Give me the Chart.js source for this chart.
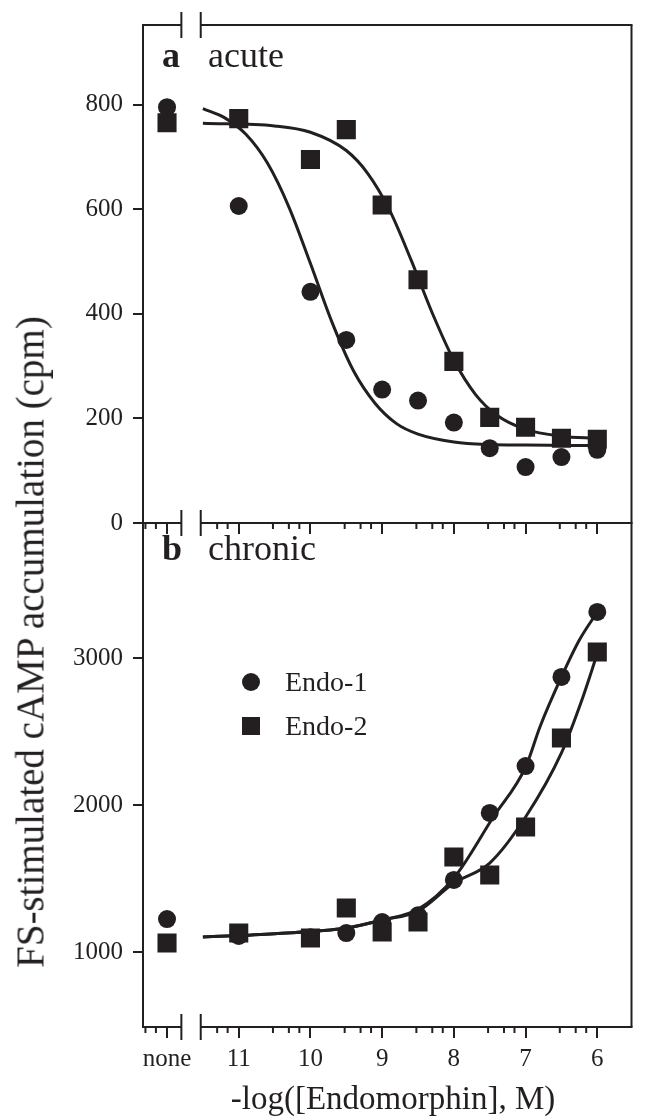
<!DOCTYPE html>
<html>
<head>
<meta charset="utf-8">
<script src="https://cdn.jsdelivr.net/npm/chart.js@4.4.1/dist/chart.umd.min.js"></script>
<style>
  html, body { margin: 0; padding: 0; background: #fff; }
  #wrap { position: relative; width: 645px; height: 1117px; overflow: hidden;
          font-family: "Liberation Serif", "Times New Roman", serif; color: #231f20; }
  canvas { position: absolute; left: 0; top: 0; }
  .txt { position: absolute; white-space: nowrap; line-height: 1; }
  .mark { position: absolute; width: 18px; height: 18px; background: #231f20; }
</style>
</head>
<body>
<div id="wrap">
  <canvas id="acuteChart" width="645" height="1117"></canvas>
  <canvas id="chronicChart" width="645" height="1117"></canvas>

  <div class="txt" id="ytitle" style="font-size:39px; left:30px; top:642px; transform:translate(-50%,-50%) rotate(-90deg);">FS-stimulated cAMP accumulation (cpm)</div>
  <div class="txt" style="font-size:33px; left:393px; top:1082px; transform:translateX(-50%);">-log([Endomorphin], M)</div>

  <div class="txt" style="font-size:36px; font-weight:bold; left:162px; top:37px;">a</div>
  <div class="txt" style="font-size:36px; left:208px; top:37px;">acute</div>
  <div class="txt" style="font-size:36px; font-weight:bold; left:162px; top:530px;">b</div>
  <div class="txt" style="font-size:36px; left:208px; top:530px;">chronic</div>

  <div class="mark" style="left:242px; top:673px; border-radius:50%;"></div>
  <div class="txt" style="font-size:28px; left:285px; top:668px;">Endo-1</div>
  <div class="mark" style="left:242px; top:717px;"></div>
  <div class="txt" style="font-size:28px; left:285px; top:712px;">Endo-2</div>
</div>

<script>
// valeurs ; 12 = "none" (sans endomorphine)
const doseLevels = [12, 11, 10, 9.5, 9, 8.5, 8, 7.5, 7, 6.5, 6];

// a : acute
const acuteEndo1 = [795, 606, 442, 350, 255, 234, 192, 143, 107, 126, 140];
const acuteEndo2 = [765, 773, 695, 752, 608, 465, 309, 202, 183, 162, 160];

// b : chronic
const chronicEndo1 = [1224, 1109, 1100, 1129, 1204, 1250, 1490, 1946, 2265, 2871, 3313];
const chronicEndo2 = [1061, 1129, 1095, 1299, 1136, 1204, 1646, 1524, 1850, 2456, 3041];

// courbes ajustées
const acuteFit1X = [11.5, 11.2, 10.9, 10.6, 10.3, 10.0, 9.7, 9.4, 9.1, 8.8, 8.5, 8.0, 7.5, 7.0, 6.0];
const acuteFit1Y = [792, 775, 743, 688, 604, 496, 384, 291, 229, 190, 170, 155, 150, 149, 148];
const acuteFit2X = [11.5, 10.5, 10.0, 9.5, 9.2, 8.9, 8.6, 8.3, 8.0, 7.7, 7.4, 7.0, 6.5, 6.0];
const acuteFit2Y = [764, 759, 747, 712, 668, 599, 504, 401, 311, 246, 206, 179, 166, 162];

const chronicFit1X = [11.5, 10.5, 9.5, 9.0, 8.5, 8.0, 7.45, 7.0, 6.8, 6.5, 6.25, 6.0];
const chronicFit1Y = [1102, 1125, 1163, 1218, 1290, 1503, 1918, 2258, 2531, 2871, 3122, 3313];
const chronicFit2X = [11.5, 10.5, 9.5, 9.0, 8.5, 8.0, 7.5, 7.0, 6.5, 6.2, 6.0];
const chronicFit2Y = [1102, 1125, 1163, 1218, 1278, 1469, 1605, 1918, 2354, 2735, 3030];

// axes
const xTickValues = [12, 11, 10, 9, 8, 7, 6];
const xTickLabels = ["none", "11", "10", "9", "8", "7", "6"];
const minorMultiples = [3, 5, 7];
const axisBreak = [11.8, 11.53];
const acuteTicks = [0, 200, 400, 600, 800];
const chronicTicks = [1000, 2000, 3000];

const INK = "#231f20";
const FONT = "'Liberation Serif', 'Times New Roman', serif";
Chart.defaults.font.family = FONT;
Chart.defaults.color = INK;

const pts = (xs, ys) => xs.map((x, i) => ({ x: x, y: ys[i] }));

// cadre avec coupure d'axe + petites graduations
const framePlugin = {
  id: "frame",
  afterDraw(chart, args, opts) {
    const { ctx, chartArea: a, scales: { x } } = chart;
    const b0 = x.getPixelForValue(axisBreak[0]);
    const b1 = x.getPixelForValue(axisBreak[1]);
    const line = (x1, y1, x2, y2) => { ctx.beginPath(); ctx.moveTo(x1, y1); ctx.lineTo(x2, y2); ctx.stroke(); };
    ctx.save();
    ctx.strokeStyle = INK;
    ctx.lineWidth = 2;
    const rows = opts.top ? [a.top, a.bottom] : [a.bottom];
    rows.forEach(y => {
      line(a.left - 1, y, b0, y);
      line(b1, y, a.right + 1, y);
      line(b0, y - 13, b0, y + 13);
      line(b1, y - 13, b1, y + 13);
    });
    line(a.right, a.top, a.right, a.bottom);
    // petites graduations (3, 5, 7 x 10^-n)
    for (let n = 13; n >= 7; n--) {
      minorMultiples.forEach(m => {
        const v = n - Math.log10(m);
        if (v > x.max || v < x.min) return;
        if (v < axisBreak[0] + 0.02 && v > axisBreak[1] - 0.02) return;
        const px = x.getPixelForValue(v);
        line(px, a.bottom, px, a.bottom + 6);
      });
    }
    ctx.restore();
  }
};

function makeChart(id, datasets, yMin, yMax, yTicks, padTop, xHeight, showXLabels, frameTop) {
  return new Chart(document.getElementById(id), {
    type: "scatter",
    data: { datasets: datasets },
    options: {
      responsive: false,
      devicePixelRatio: 1,
      animation: false,
      events: [],
      layout: { padding: { left: 0, right: 2, top: padTop, bottom: 0 } },
      plugins: { legend: { display: false }, tooltip: { enabled: false }, frame: { top: frameTop } },
      scales: {
        x: {
          type: "linear", reverse: true, min: 5.523, max: 12.335,
          afterBuildTicks: s => { s.ticks = xTickValues.map(v => ({ value: v })); },
          afterFit: s => { s.height = xHeight; },
          grid: { drawOnChartArea: false, drawTicks: true, tickLength: 11, color: INK, lineWidth: 2 },
          border: { display: false },
          ticks: {
            display: showXLabels, color: INK, font: { size: 25 }, padding: 6,
            maxRotation: 0, autoSkip: false,
            callback: (v, i) => xTickLabels[i]
          }
        },
        y: {
          min: yMin, max: yMax,
          afterBuildTicks: s => { s.ticks = yTicks.map(v => ({ value: v })); },
          afterFit: s => { s.width = 143; },
          grid: { drawOnChartArea: false, drawTicks: true, tickLength: 10, color: INK, lineWidth: 2 },
          border: { display: true, color: INK, width: 2 },
          ticks: { color: INK, font: { size: 25 }, padding: 10, callback: v => String(v) }
        }
      }
    },
    plugins: [framePlugin]
  });
}

const squares = d => ({ data: d, pointStyle: "rect", pointRadius: 13.5, backgroundColor: INK, borderWidth: 0, order: 0 });
const circles = d => ({ data: d, pointStyle: "circle", pointRadius: 9, backgroundColor: INK, borderWidth: 0, order: 1 });
const fit = d => ({ data: d, showLine: true, pointRadius: 0, borderColor: INK, borderWidth: 3,
                    cubicInterpolationMode: "monotone", order: 2 });

makeChart("acuteChart", [
  squares(pts(doseLevels, acuteEndo2)),
  circles(pts(doseLevels, acuteEndo1)),
  fit(pts(acuteFit1X, acuteFit1Y)),
  fit(pts(acuteFit2X, acuteFit2Y))
], 0, 952, acuteTicks, 23, 1117 - 523, false, true);

makeChart("chronicChart", [
  squares(pts(doseLevels, chronicEndo2)),
  circles(pts(doseLevels, chronicEndo1)),
  fit(pts(chronicFit1X, chronicFit1Y)),
  fit(pts(chronicFit2X, chronicFit2Y))
], 490, 3918, chronicTicks, 523, 90, true, false);
</script>
</body>
</html>
